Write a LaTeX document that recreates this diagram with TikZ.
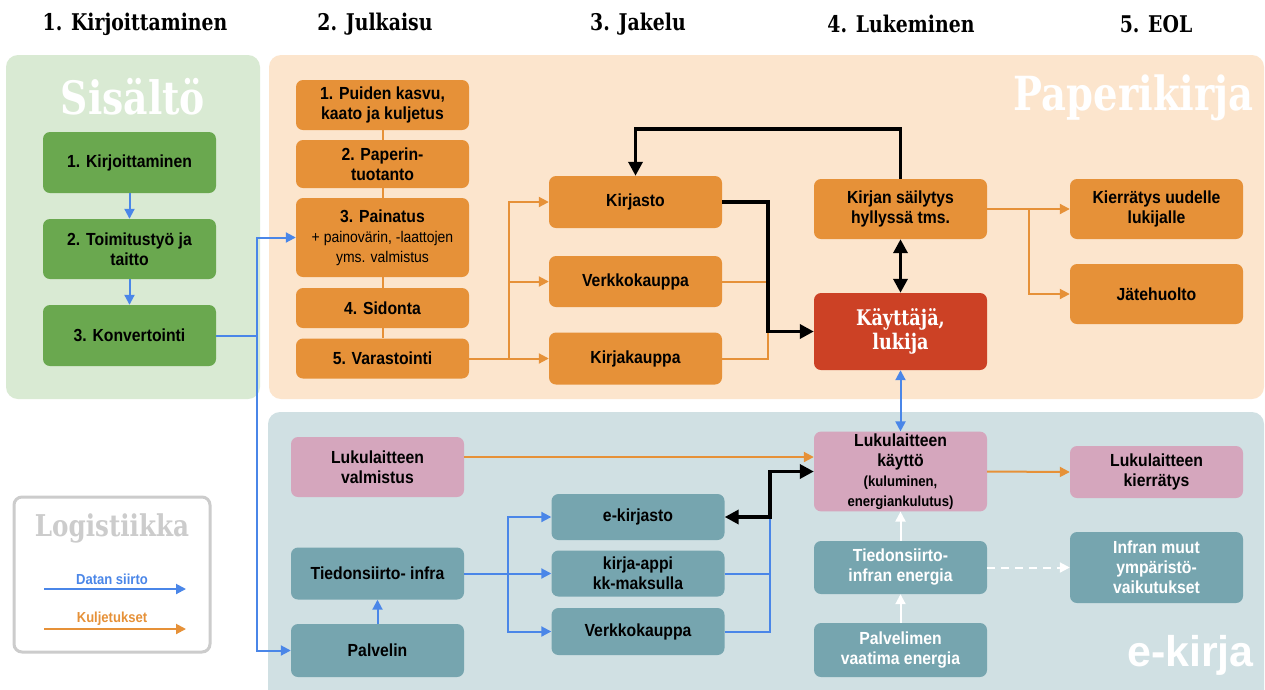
\documentclass[tikz,border=0pt]{standalone}
\usepackage{fontspec}
\setmainfont{Liberation Sans}[FakeStretch=0.9]
\newfontfamily\plainsans{Liberation Sans}
\newfontfamily\slab[FakeStretch=0.82]{DejaVu Serif}
\usetikzlibrary{arrows.meta}
\definecolor{gpanel}{HTML}{D9EAD3}
\definecolor{gboxc}{HTML}{6AA84F}
\definecolor{opanel}{HTML}{FCE5CD}
\definecolor{oboxc}{HTML}{E69138}
\definecolor{rboxc}{HTML}{CC4125}
\definecolor{tpanel}{HTML}{D0E0E3}
\definecolor{tboxc}{HTML}{76A5AF}
\definecolor{pboxc}{HTML}{D5A6BD}
\definecolor{bluec}{HTML}{4A86E8}
\definecolor{legc}{HTML}{CCCCCC}
\newcommand{\smallreg}{\fontsize{15.5}{17.5}\selectfont\mdseries}
\newcommand{\smallbold}{\fontsize{14.6}{16.5}\selectfont\bfseries}
\begin{document}
\begin{tikzpicture}[x=1pt,y=1pt,
  box/.style={rounded corners=7pt, minimum width=173pt, align=center, inner sep=2pt, text=black,
    font=\fontsize{17.5}{20}\selectfont\bfseries},
  gbox/.style={box, fill=gboxc},
  obox/.style={box, fill=oboxc},
  rbox/.style={box, fill=rboxc, text=white, font=\slab\bfseries\fontsize{21.5}{24}\selectfont},
  tbox/.style={box, fill=tboxc},
  wbox/.style={box, fill=tboxc, text=white},
  pbox/.style={box, fill=pboxc},
  panel/.style={rounded corners=12pt},
  header/.style={font=\slab\bfseries\fontsize{23}{26}\selectfont, text=black},
  bigtitle/.style={font=\slab\bfseries\fontsize{47}{50}\selectfont, text=white, inner sep=0pt},
  dataline/.style={draw=bluec, line width=2pt},
  dataarrow/.style={dataline, -{Triangle[length=10pt,width=10pt]}},
  datadouble/.style={dataline, {Triangle[length=10pt,width=10pt]}-{Triangle[length=10pt,width=10pt]}},
  haul/.style={draw=oboxc, line width=2pt},
  haularrow/.style={haul, -{Triangle[length=10pt,width=10pt]}},
  bigarrow/.style={draw=black, line width=3.5pt, -{Triangle[length=14pt,width=14pt]}},
  bigdouble/.style={draw=black, line width=3.5pt, {Triangle[length=14pt,width=14pt]}-{Triangle[length=14pt,width=14pt]}},
  whitearrow/.style={draw=white, line width=2pt, -{Triangle[length=10pt,width=10pt]}},
]
\useasboundingbox (0,0) rectangle (1265,-689);
\fill[white] (0,0) rectangle (1265,-689);

% panels
\fill[gpanel, panel] (6,-55) rectangle (260,-399);
\fill[opanel, panel] (269,-55) rectangle (1264,-399);
\fill[tpanel, panel] (268,-412) rectangle (1264,-705);

% headers
\node[header] (h1) at (135,-24) {1. Kirjoittaminen};
\node[header] (h2) at (375,-24) {2. Julkaisu};
\node[header] (h3) at (638,-24) {3. Jakelu};
\node[header] (h4) at (901,-24) {4. Lukeminen};
\node[header] (h5) at (1156,-24) {5. EOL};

% big titles
\node[bigtitle, font=\slab\bfseries\fontsize{46}{50}\selectfont] (tsis) at (133,-97) {Sisältö};
\node[bigtitle, anchor=east] (tpap) at (1254,-98) {Paperikirja};
\node[bigtitle, font=\plainsans\bfseries\fontsize{43}{46}\selectfont, anchor=east] (tek) at (1254,-655) {e-kirja};

% legend
\draw[legc, line width=3pt, fill=white, rounded corners=8pt] (14,-497) rectangle (210,-652);
\node[font=\slab\bfseries\fontsize{30}{32}\selectfont, text=legc] (leg) at (112,-528) {Logistiikka};
\node[font=\bfseries\fontsize{14.5}{16}\selectfont, text=bluec] (ldata) at (112,-579) {Datan siirto};
\node[font=\bfseries\fontsize{14.5}{16}\selectfont, text=oboxc] (lhaul) at (112,-619) {Kuljetukset};
\coordinate (ld1) at (44,-589);
\coordinate (ld2) at (186,-589);
\coordinate (lh1) at (44,-629);
\coordinate (lh2) at (186,-629);
\draw[dataarrow] (ld1) -- (ld2);
\draw[haularrow] (lh1) -- (lh2);

% green boxes
\node[gbox, minimum height=61pt] (k1) at (129.5,-162.5) {1. Kirjoittaminen};
\node[gbox, minimum height=60pt] (k2) at (129.5,-249) {2. Toimitustyö ja\\taitto};
\node[gbox, minimum height=61pt] (k3) at (129.5,-335.5) {3. Konvertointi};

% paper column 2
\node[obox, minimum height=50pt] (p1) at (382.5,-105) {1. Puiden kasvu,\\kaato ja kuljetus};
\node[obox, minimum height=48pt] (p2) at (382.5,-164) {2. Paperin-\\tuotanto};
\node[obox, minimum height=79pt] (p3) at (382.5,-237.5) {3. Painatus\\\smallreg + painovärin, -laattojen\\\smallreg yms. valmistus};
\node[obox, minimum height=40pt] (p4) at (382.5,-308) {4. Sidonta};
\node[obox, minimum height=40pt] (p5) at (382.5,-358.5) {5. Varastointi};

% paper column 3
\node[obox, minimum height=52pt] (kirjasto) at (635.5,-202) {Kirjasto};
\node[obox, minimum height=51pt] (verkko) at (635.5,-281.5) {Verkkokauppa};
\node[obox, minimum height=52pt] (kirjak) at (635.5,-358.5) {Kirjakauppa};

% paper column 4, 5
\node[obox, minimum height=60pt] (sail) at (900.5,-209) {Kirjan säilytys\\hyllyssä tms.};
\node[rbox, minimum height=77pt] (kayt) at (900.5,-331.5) {Käyttäjä,\\lukija};
\node[obox, minimum height=60pt] (kierr) at (1156.5,-209) {Kierrätys uudelle\\lukijalle};
\node[obox, minimum height=60pt] (jate) at (1156.5,-294) {Jätehuolto};

% e-book
\node[pbox, minimum height=60pt] (valm) at (377.5,-467) {Lukulaitteen\\valmistus};
\node[tbox, minimum height=52pt] (tinfra) at (377.5,-573.5) {Tiedonsiirto- infra};
\node[tbox, minimum height=53pt] (palv) at (377.5,-650.5) {Palvelin};
\node[tbox, minimum height=46pt] (ekirjasto) at (638,-517) {e-kirjasto};
\node[tbox, minimum height=46pt] (appi) at (638,-573.5) {kirja-appi\\kk-maksulla};
\node[tbox, minimum height=47pt] (verkko2) at (638,-631.5) {Verkkokauppa};
\node[pbox, minimum height=79pt] (kaytto) at (900.5,-471.5) {Lukulaitteen\\käyttö\\\smallbold (kuluminen,\\\smallbold energiankulutus)};
\node[pbox, minimum height=52pt] (kierr2) at (1156.5,-472) {Lukulaitteen\\kierrätys};
\node[wbox, minimum height=53pt] (tener) at (900.5,-567.5) {Tiedonsiirto-\\infran energia};
\node[wbox, minimum height=54pt] (pener) at (900.5,-650) {Palvelimen\\vaatima energia};
\node[wbox, minimum height=71pt] (muut) at (1156.5,-567.5) {Infran muut\\ympäristö-\\vaikutukset};

% ---- connectors ----
% content column
\draw[dataarrow] (k1.south) -- (k2.north);
\draw[dataarrow] (k2.south) -- (k3.north);
\coordinate (j1) at (257,-335.5);
\draw[dataline] (k3.east) -- (j1);
\draw[dataarrow] (j1) |- (p3.west);
\draw[dataarrow] (j1) |- (palv.west);

% paper production chain
\draw[haul] (p1.south) -- (p2.north);
\draw[haul] (p2.south) -- (p3.north);
\draw[haul] (p3.south) -- (p4.north);
\draw[haul] (p4.south) -- (p5.north);

% distribution
\coordinate (j2) at (509,-358.5);
\draw[haularrow] (p5.east) -- (kirjak.west);
\draw[haularrow] (j2) |- (kirjasto.west);
\draw[haularrow] (j2) |- (verkko.west);

\coordinate (j3) at (768,-331.5);
\draw[haul] (verkko.east) -- (verkko.east -| j3);
\draw[haul] (kirjak.east) -| (j3);
\draw[bigarrow] (kirjasto.east) -| (j3) -- (kayt.west);

\coordinate (top) at (0,-129);
\draw[bigarrow] (sail.north) -- (sail.north |- top) -| (kirjasto.north);
\draw[bigdouble] (sail.south) -- (kayt.north);

\coordinate (j4) at (1029,-209);
\draw[haularrow] (sail.east) -- (kierr.west);
\draw[haularrow] (j4) |- (jate.west);

% reader to device
\draw[datadouble] (kayt.south) -- (kaytto.north);

% e-book
\draw[haularrow] ([yshift=10pt]valm.east) -- ([yshift=10pt]valm.east -| kaytto.west);
\draw[dataarrow] (palv.north) -- (tinfra.south);
\coordinate (j6) at (508,-573.5);
\draw[dataarrow] (tinfra.east) -- (appi.west);
\draw[dataarrow] (j6) |- (ekirjasto.west);
\draw[dataarrow] (j6) |- (verkko2.west);

\coordinate (j5) at (770,-517);
\draw[dataline] (appi.east) -- (appi.east -| j5);
\draw[dataline] (verkko2.east) -| (j5);
\draw[bigdouble] (ekirjasto.east) -- (j5) |- (kaytto.west);

\draw[haularrow] (kaytto.east) -- (kierr2.west);
\draw[whitearrow] (pener.north) -- (tener.south);
\draw[whitearrow] (tener.north) -- (kaytto.south);
\draw[whitearrow, dash pattern=on 8pt off 6pt] (tener.east) -- (muut.west);
\end{tikzpicture}
\end{document}
